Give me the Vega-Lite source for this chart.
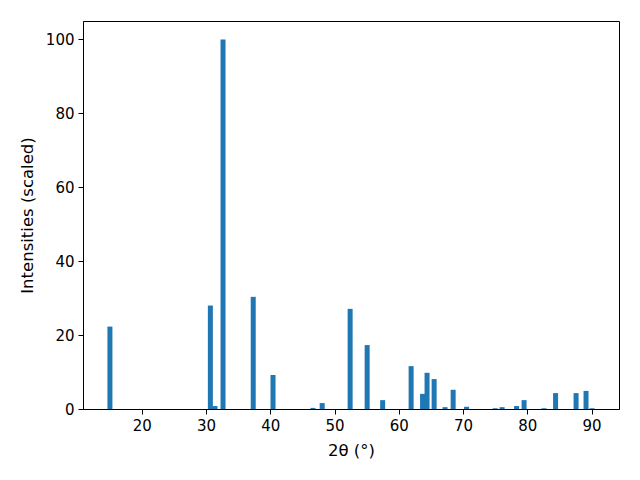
{
  "$schema": "https://vega.github.io/schema/vega-lite/v6.json",
  "width": 536,
  "height": 388,
  "autosize": {"type": "none"},
  "padding": {"left": 83, "top": 21, "right": 21, "bottom": 71},
  "background": "white",
  "config": {
    "view": {"stroke": "black", "strokeWidth": 1},
    "font": "DejaVu Sans",
    "axis": {
      "grid": false,
      "domainColor": "black",
      "tickColor": "black",
      "labelColor": "black",
      "titleColor": "black",
      "labelFontSize": 15,
      "titleFontSize": 16.5,
      "titleFontWeight": "normal",
      "tickSize": 5,
      "labelPadding": 4,
      "labelFont": "DejaVu Sans",
      "titleFont": "DejaVu Sans"
    }
  },
  "data": {
    "values": [
      {"two_theta": 15.05, "intensity": 22.3},
      {"two_theta": 30.68, "intensity": 28.0},
      {"two_theta": 31.4, "intensity": 0.8},
      {"two_theta": 32.65, "intensity": 100},
      {"two_theta": 37.35, "intensity": 30.35},
      {"two_theta": 40.43, "intensity": 9.2},
      {"two_theta": 46.65, "intensity": 0.3},
      {"two_theta": 48.08, "intensity": 1.6},
      {"two_theta": 52.43, "intensity": 27.1},
      {"two_theta": 55.08, "intensity": 17.3},
      {"two_theta": 57.49, "intensity": 2.4},
      {"two_theta": 61.92, "intensity": 11.6},
      {"two_theta": 63.7, "intensity": 4.1},
      {"two_theta": 64.4, "intensity": 9.8},
      {"two_theta": 65.5, "intensity": 8.1},
      {"two_theta": 67.2, "intensity": 0.5},
      {"two_theta": 68.46, "intensity": 5.2},
      {"two_theta": 70.55, "intensity": 0.6},
      {"two_theta": 75.0, "intensity": 0.2},
      {"two_theta": 76.08, "intensity": 0.5},
      {"two_theta": 78.33, "intensity": 0.8},
      {"two_theta": 79.5, "intensity": 2.4},
      {"two_theta": 82.6, "intensity": 0.2},
      {"two_theta": 84.4, "intensity": 4.3},
      {"two_theta": 87.59, "intensity": 4.3},
      {"two_theta": 89.14, "intensity": 4.9},
      {"two_theta": 90.08, "intensity": 0.2}
    ]
  },
  "mark": {"type": "bar", "color": "#1f77b4", "size": 5},
  "encoding": {
    "x": {
      "field": "two_theta",
      "type": "quantitative",
      "scale": {"domain": [10.86, 94.27], "nice": false, "zero": false, "padding": 0},
      "axis": {"values": [20, 30, 40, 50, 60, 70, 80, 90], "title": "2θ (°)", "titlePadding": 9}
    },
    "y": {
      "field": "intensity",
      "type": "quantitative",
      "scale": {"domain": [0, 105], "nice": false},
      "axis": {"values": [0, 20, 40, 60, 80, 100], "title": "Intensities (scaled)", "titlePadding": 10}
    }
  }
}
